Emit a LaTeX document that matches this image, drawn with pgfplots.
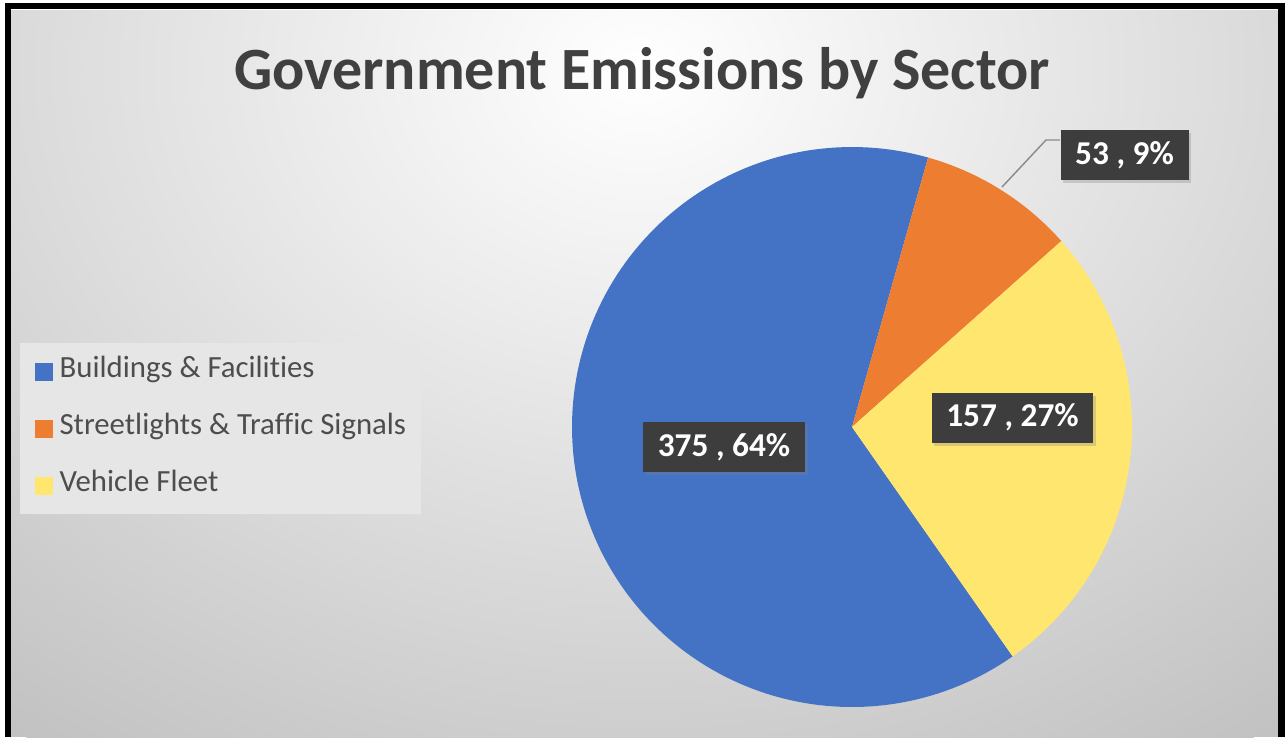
\documentclass[border=0pt]{standalone}
\usepackage{pgfplots}
\pgfplotsset{compat=1.18}
\usepackage{pgfplotstable}
\usepackage{fontspec}
\setmainfont{Carlito}[Ligatures=NoCommon]
\usetikzlibrary{shadows}
\definecolor{pieblue}{HTML}{4472C4}
\definecolor{pieorange}{HTML}{ED7D31}
\definecolor{pieyellow}{HTML}{FFE66E}
\definecolor{titlegray}{HTML}{404040}
\definecolor{legtext}{HTML}{4D4D4D}
\definecolor{legbox}{HTML}{E6E6E6}
\definecolor{labelbox}{HTML}{3D3D3D}
\definecolor{bgout}{HTML}{C2C2C2}
\definecolor{leader}{HTML}{8C8C8C}

\pgfplotstableread{
sector value
Buildings 375
Streetlights 53
Vehicle 157
}\sectors
\pgfplotstablegetelem{0}{value}\of\sectors \edef\vA{\pgfplotsretval}
\pgfplotstablegetelem{1}{value}\of\sectors \edef\vB{\pgfplotsretval}
\pgfplotstablegetelem{2}{value}\of\sectors \edef\vC{\pgfplotsretval}
\pgfmathsetmacro\tot{\vA+\vB+\vC}
\pgfmathsetmacro\sZ{-55}
\pgfmathsetmacro\sA{\sZ-360*(\vA/\tot)}
\pgfmathsetmacro\sB{\sA-360*(\vB/\tot)}
\pgfmathsetmacro\sC{\sB-360*(\vC/\tot)}

\tikzset{dlabel/.style={fill=labelbox, text=white, font=\bfseries\fontsize{25}{30}\selectfont,
  inner xsep=11pt, inner ysep=0pt, minimum height=37.5pt,
  drop shadow={shadow xshift=2pt, shadow yshift=-2.5pt, opacity=0.3}}}

\begin{document}
\begin{tikzpicture}
\begin{axis}[
  scale only axis, width=963.75pt, height=552.75pt,
  xmin=0, xmax=1285, ymin=0, ymax=737, y dir=reverse,
  hide axis, clip=false,
  legend image code/.code={\fill[#1] (0pt,-6.75pt) rectangle (13.5pt,6.75pt);},
  legend cell align=left,
  legend style={at={(axis cs:20,343)}, anchor=north west, draw=none,
    fill=legbox,
    font=\fontsize{23.1}{27}\selectfont, text=legtext,
    inner xsep=11pt, inner ysep=10pt, row sep=20pt,
    nodes={inner sep=0pt, text height=15.5pt, text depth=7.25pt},
    /tikz/every odd column/.append style={column sep=5pt}},
]
\fill[white] (axis cs:0,0) rectangle (axis cs:1285,737);
\begin{scope}
\clip (axis cs:11,10) rectangle (axis cs:1280,737);
\fill[bgout] (axis cs:0,0) rectangle (axis cs:1285,737);
\shade[inner color=white, outer color=bgout] (axis cs:640,70) ellipse [x radius=780pt, y radius=620pt];
\end{scope}
\draw[line width=5pt, black, line join=miter] (axis cs:8,737) -- (axis cs:8,6) -- (axis cs:1281.5,6) -- (axis cs:1281.5,737);

\node[font=\bfseries\fontsize{45}{54}\selectfont, text=titlegray, anchor=base] at (axis cs:642,89) {Government Emissions by Sector};

\addplot[draw=none, fill=pieblue, domain=\sA:\sZ, samples=150, variable=\t]
  ({852+280*cos(\t)}, {427-280*sin(\t)}) -- (axis cs:852,427) -- cycle;
\addlegendentry{Buildings \& Facilities}
\addplot[draw=none, fill=pieorange, domain=\sB:\sA, samples=40, variable=\t]
  ({852+280*cos(\t)}, {427-280*sin(\t)}) -- (axis cs:852,427) -- cycle;
\addlegendentry{Streetlights \& Traffic Signals}
\addplot[draw=none, fill=pieyellow, domain=\sC:\sB, samples=80, variable=\t]
  ({852+280*cos(\t)}, {427-280*sin(\t)}) -- (axis cs:852,427) -- cycle;
\addlegendentry{Vehicle Fleet}

\draw[leader, line width=1.1pt] (axis cs:1002,187) -- (axis cs:1046,140) -- (axis cs:1060,140);
\node[dlabel] at (axis cs:724,447) {375 , 64\%};
\node[dlabel] at (axis cs:1012.5,417.5) {157 , 27\%};
\node[dlabel] at (axis cs:1124.5,155) {53 , 9\%};
\end{axis}
\end{tikzpicture}
\end{document}
